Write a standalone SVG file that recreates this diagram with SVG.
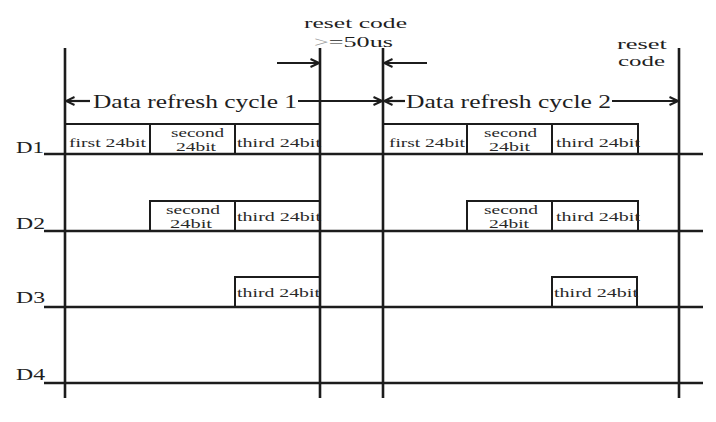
<svg xmlns="http://www.w3.org/2000/svg" width="716" height="422" viewBox="0 0 716 422">
<style>
.bg{fill:#fff}
.v{stroke:#1c1c1c;stroke-width:2.6;fill:none}
.h{stroke:#1c1c1c;stroke-width:2.3;fill:none}
.box{stroke:#1c1c1c;stroke-width:2;fill:#fff}
.arr{stroke:#1c1c1c;stroke-width:2.2;fill:none}
text{font-family:'Liberation Serif','DejaVu Serif',serif;fill:#1e1e1e}
.lbl{font-size:17.5px}
.ttl{font-size:18px}
.cell{font-size:13px;fill:#2a2a2a}
.rc{font-size:15px}
</style>
<defs>
<marker id="ah" viewBox="0 0 10 10" refX="9.5" refY="5" markerWidth="10" markerHeight="10" markerUnits="userSpaceOnUse" orient="auto">
<path d="M1,1 L9.5,5 L1,9" fill="none" stroke="#1c1c1c" stroke-width="2"/>
</marker>
</defs>
<rect class="bg" x="0" y="0" width="716" height="422"/>

<g id="signals">
<g id="D1">
<rect class="box" x="65" y="124" width="85" height="30"/>
<rect class="box" x="150" y="124" width="85" height="30"/>
<rect class="box" x="235" y="124" width="85" height="30"/>
<rect class="box" x="383" y="124" width="84" height="30"/>
<rect class="box" x="467" y="124" width="85" height="30"/>
<rect class="box" x="552" y="124" width="86" height="30"/>
<text class="cell" x="69" y="147" textLength="77" lengthAdjust="spacingAndGlyphs">first 24bit</text>
<text class="cell" x="171" y="136.5" textLength="53" lengthAdjust="spacingAndGlyphs">second</text>
<text class="cell" x="176" y="151" textLength="40" lengthAdjust="spacingAndGlyphs">24bit</text>
<text class="cell" x="237" y="147" textLength="84" lengthAdjust="spacingAndGlyphs">third 24bit</text>
<text class="cell" x="389" y="147" textLength="76" lengthAdjust="spacingAndGlyphs">first 24bit</text>
<text class="cell" x="484" y="136.5" textLength="53" lengthAdjust="spacingAndGlyphs">second</text>
<text class="cell" x="489" y="151" textLength="41" lengthAdjust="spacingAndGlyphs">24bit</text>
<text class="cell" x="556" y="147" textLength="84" lengthAdjust="spacingAndGlyphs">third 24bit</text>
<text class="lbl" x="16" y="153" textLength="28" lengthAdjust="spacingAndGlyphs">D1</text>
<line class="h" x1="44" y1="154" x2="703" y2="154"/>
</g>
<g id="D2">
<rect class="box" x="150" y="201" width="85" height="30"/>
<rect class="box" x="235" y="201" width="85" height="30"/>
<rect class="box" x="467" y="201" width="85" height="30"/>
<rect class="box" x="552" y="201" width="86" height="30"/>
<text class="cell" x="166" y="213.5" textLength="54" lengthAdjust="spacingAndGlyphs">second</text>
<text class="cell" x="170" y="228" textLength="42" lengthAdjust="spacingAndGlyphs">24bit</text>
<text class="cell" x="237" y="221" textLength="84" lengthAdjust="spacingAndGlyphs">third 24bit</text>
<text class="cell" x="484" y="213.5" textLength="54" lengthAdjust="spacingAndGlyphs">second</text>
<text class="cell" x="489" y="228" textLength="40" lengthAdjust="spacingAndGlyphs">24bit</text>
<text class="cell" x="556" y="221" textLength="84" lengthAdjust="spacingAndGlyphs">third 24bit</text>
<text class="lbl" x="16" y="229" textLength="29" lengthAdjust="spacingAndGlyphs">D2</text>
<line class="h" x1="44" y1="231" x2="703" y2="231"/>
</g>
<g id="D3">
<rect class="box" x="235" y="277" width="85" height="30"/>
<rect class="box" x="552" y="277" width="85" height="30"/>
<text class="cell" x="237" y="297" textLength="83" lengthAdjust="spacingAndGlyphs">third 24bit</text>
<text class="cell" x="554" y="297" textLength="84" lengthAdjust="spacingAndGlyphs">third 24bit</text>
<text class="lbl" x="16" y="303" textLength="29" lengthAdjust="spacingAndGlyphs">D3</text>
<line class="h" x1="44" y1="307" x2="703" y2="307"/>
</g>
<g id="D4">
<text class="lbl" x="16" y="380" textLength="29" lengthAdjust="spacingAndGlyphs">D4</text>
<line class="h" x1="44" y1="383" x2="703" y2="383"/>
</g>
</g>

<g id="boundaries">
<line class="v" x1="65" y1="48" x2="65" y2="398"/>
<line class="v" x1="320" y1="48" x2="320" y2="398"/>
<line class="v" x1="383" y1="48" x2="383" y2="398"/>
<line class="v" x1="679" y1="48" x2="679" y2="398"/>
</g>

<g id="connectors">
<line class="arr" x1="277" y1="63" x2="319" y2="63" marker-end="url(#ah)"/>
<line class="arr" x1="427" y1="63" x2="384" y2="63" marker-end="url(#ah)"/>
<line class="arr" x1="90" y1="101" x2="66" y2="101" marker-end="url(#ah)"/>
<line class="arr" x1="298" y1="101" x2="382" y2="101" marker-end="url(#ah)"/>
<line class="arr" x1="405" y1="101" x2="384" y2="101" marker-end="url(#ah)"/>
<line class="arr" x1="612" y1="101" x2="678" y2="101" marker-end="url(#ah)"/>
</g>

<g id="cycle1">
<text class="ttl" x="93" y="108" textLength="204" lengthAdjust="spacingAndGlyphs">Data refresh cycle 1</text>
</g>
<g id="cycle2">
<text class="ttl" x="406" y="108" textLength="205" lengthAdjust="spacingAndGlyphs">Data refresh cycle 2</text>
</g>

<g id="reset-code-1">
<text class="rc" x="304" y="28" textLength="103" lengthAdjust="spacingAndGlyphs">reset code</text>
<text class="rc" x="314" y="47" textLength="79" lengthAdjust="spacingAndGlyphs"><tspan fill="#9a9a9a">&gt;</tspan>=50us</text>
</g>
<g id="reset-code-2">
<text class="rc" x="617" y="49" textLength="50" lengthAdjust="spacingAndGlyphs">reset</text>
<text class="rc" x="618" y="66" textLength="47" lengthAdjust="spacingAndGlyphs">code</text>
</g>
</svg>
